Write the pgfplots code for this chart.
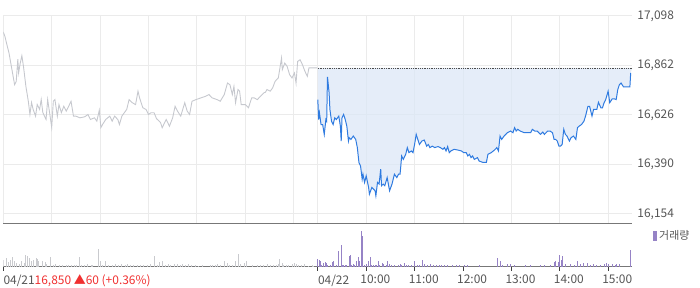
\documentclass[border=0pt]{standalone}
\usepackage{fontspec}
\setmainfont{Noto Sans CJK KR}
\usepackage{pgfplots}
\usepackage{pgfplotstable}
\pgfplotsset{compat=1.18}
\usepgfplotslibrary{fillbetween}
\definecolor{gridc}{HTML}{EBEBEB}
\definecolor{dayone}{HTML}{C6C8CE}
\definecolor{daytwo}{HTML}{2F7BE0}
\definecolor{fillc}{HTML}{DCE7F7}
\definecolor{volp}{HTML}{9683C6}
\definecolor{volg}{HTML}{C9CACE}
\definecolor{lab}{HTML}{555555}
\definecolor{up}{HTML}{F03030}
\definecolor{axc}{HTML}{777777}

\pgfplotstableread{
m p
0 17021
2 17000
5 16952
7 16922
10 16857
14 16770
16 16786
18 16892
19 16826
21 16873
23 16908
25 16857
28 16762
31 16691
33 16628
35 16685
37 16652
40 16620
42 16675
45 16652
47 16699
49 16637
53 16604
55 16699
58 16620
60 16566
62 16691
64 16699
67 16620
69 16675
72 16637
75 16667
78 16644
81 16667
84 16691
85 16667
87 16620
90 16620
95 16612
101 16617
105 16628
108 16604
113 16612
116 16596
119 16648
121 16565
123 16580
127 16604
132 16620
135 16596
138 16620
142 16604
144 16580
147 16620
150 16636
153 16652
156 16699
160 16684
164 16675
167 16739
169 16707
173 16660
177 16652
180 16628
183 16636
187 16636
190 16608
195 16589
197 16565
202 16604
206 16572
210 16612
213 16667
216 16644
220 16620
225 16684
228 16644
231 16628
234 16691
239 16699
245 16707
251 16715
255 16723
259 16707
265 16699
269 16691
274 16723
278 16778
281 16770
284 16723
286 16762
288 16684
291 16747
293 16739
295 16675
300 16675
304 16660
308 16707
311 16707
315 16699
319 16715
323 16731
325 16734
327 16747
331 16739
334 16755
337 16786
341 16802
345 16897
346 16842
349 16873
352 16857
355 16818
358 16802
361 16826
363 16778
365 16881
368 16889
371 16865
374 16834
377 16810
379 16850
389 16850
}\dayone

\pgfplotstableread{
m p
390 16699
391 16604
392 16636
394 16580
396 16580
398 16533
400 16604
401 16596
402 16807
404 16731
405 16652
407 16596
409 16580
411 16612
413 16604
416 16620
418 16572
419 16501
420 16612
422 16628
424 16604
426 16572
428 16501
429 16517
431 16509
434 16525
437 16509
439 16470
441 16399
443 16382
445 16319
446 16343
448 16304
450 16335
453 16280
454 16248
457 16280
459 16272
461 16264
462 16240
464 16304
466 16296
468 16367
469 16288
471 16296
473 16288
476 16327
479 16264
482 16296
485 16343
488 16327
490 16343
492 16343
494 16430
496 16414
499 16438
501 16470
503 16446
506 16454
508 16446
510 16485
512 16533
514 16509
516 16485
519 16501
522 16506
525 16477
527 16485
529 16470
532 16477
535 16470
539 16475
542 16470
545 16462
547 16470
549 16454
551 16475
553 16446
555 16454
559 16462
564 16458
568 16454
571 16446
574 16446
576 16430
578 16438
580 16422
582 16430
584 16414
588 16422
590 16406
595 16399
599 16399
601 16438
605 16446
609 16458
612 16470
614 16454
616 16525
618 16509
621 16525
625 16541
629 16549
632 16541
634 16565
636 16549
638 16557
641 16549
646 16541
654 16541
656 16557
659 16549
662 16549
664 16541
666 16533
669 16544
671 16533
675 16549
678 16549
681 16541
683 16509
685 16509
687 16501
689 16477
691 16477
693 16485
695 16557
697 16533
699 16525
702 16501
704 16517
707 16525
710 16509
712 16565
714 16572
717 16580
720 16596
722 16620
725 16667
727 16667
730 16620
732 16652
736 16652
738 16686
741 16660
743 16660
745 16684
747 16699
750 16739
752 16684
755 16702
758 16702
760 16699
762 16747
764 16770
766 16778
769 16760
771 16760
777 16760
778 16826
}\daytwo

\pgfplotstableread{
m v
0 7
4 9
6 5
9 7
11 10
14 6
16 4
20 3
23 6
26 4
28 12
30 11
32 9
35 6
37 7
38 6
41 9
42 8
44 6
48 5
49 6
52 5
54 3
59 10
62 2
65 3
70 2
74 2
78 2
81 2
85 2
88 2
91 2
94 10
97 2
101 2
105 3
109 2
111 2
118 18
120 6
123 2
127 6
131 2
136 2
139 3
143 2
146 3
151 2
154 3
158 2
162 2
167 2
170 2
174 2
179 2
183 3
188 11
191 2
194 5
197 6
201 2
205 3
207 2
212 3
216 3
220 2
222 3
226 2
230 3
233 2
238 2
242 1
247 2
257 2
259 2
263 2
265 3
269 2
274 6
278 4
280 2
284 2
288 6
292 13
294 3
299 4
302 6
309 2
315 2
319 2
323 2
327 3
331 2
335 2
339 2
341 3
343 8
346 4
348 2
351 2
354 2
358 3
361 4
363 3
366 2
370 2
374 3
379 1
383 2
385 1
}\volone

\pgfplotstableread{
m v
390 8
392 7
393 6
395 2
397 4
399 5
401 4
402 2
406 2
408 5
409 6
413 2
416 16
419 22
420 2
422 2
424 2
426 2
429 11
430 12
432 2
434 3
436 2
438 6
440 10
442 6
444 36
446 31
448 2
450 3
453 6
455 10
457 2
459 2
461 2
463 2
465 6
467 2
470 4
472 3
475 2
477 6
479 3
481 2
485 2
490 2
492 3
494 2
497 4
500 2
502 2
506 2
510 6
513 2
516 2
520 7
522 3
526 2
530 3
533 2
537 2
541 2
543 2
547 2
551 2
557 2
562 2
566 2
572 2
576 2
590 2
613 9
616 6
619 2
625 3
629 3
634 2
648 2
654 2
666 2
671 2
679 2
683 5
685 6
689 5
690 12
692 7
693 11
697 3
703 3
708 2
712 6
716 3
720 4
724 4
728 2
732 3
736 2
741 2
745 3
748 4
751 3
755 3
759 2
761 3
764 3
778 17
}\voltwo

\begin{document}
\begin{tikzpicture}[font=\fontsize{12}{14}\selectfont]
% price panel
\begin{axis}[
  at={(0pt,64pt)}, anchor=south west,
  width=632pt, height=209pt, scale only axis,
  xmin=0, xmax=780, ymin=16106, ymax=17098,
  axis x line*=bottom, axis y line*=right,
  y axis line style={draw=none},
  x axis line style={color=axc, line width=1pt, -},
  xtick={0,60,120,180,240,300,360,390,450,510,570,630,690,750},
  xticklabels={},
  ytick={16154,16390,16626,16862,17098},
  scaled y ticks=false,
  yticklabel pos=right,
  yticklabel style={anchor=west, inner sep=0pt, xshift=5pt, text=lab,
    /pgf/number format/fixed, /pgf/number format/precision=0,
    /pgf/number format/1000 sep={,}, /pgf/number format/assume math mode=true},
  major tick length=0pt,
  grid=major,
  major grid style={color=gridc, line width=0.9pt},
]
\addplot[color=dayone, line width=0.9pt] table[x=m, y=p] {\dayone};
\addplot[draw=none, name path=ref, forget plot] coordinates {(390,16850) (780,16850)};
\addplot[draw=none, name path=d2, forget plot] table[x=m, y=p] {\daytwo};
\addplot[fill=fillc, fill opacity=0.75, draw=none] fill between[of=d2 and ref];
\addplot[color=black!70, densely dotted, line width=0.8pt] coordinates {(390,16850) (780,16850)};
\addplot[color=daytwo, line width=1pt] table[x=m, y=p] {\daytwo};
\end{axis}
% volume panel
\begin{axis}[
  at={(0pt,21pt)}, anchor=south west,
  width=632pt, height=40pt, scale only axis,
  xmin=0, xmax=780, ymin=0, ymax=40,
  axis x line*=bottom, axis y line*=left,
  y axis line style={draw=none}, ytick=\empty,
  x axis line style={color=axc, line width=1pt, -},
  xtick={0,390,450,510,570,630,690,750},
  xticklabels={04/21{\color{up}16,850 ▲60 (+0.36\%)}, 04/22, \hspace*{-6pt}10:00, \hspace*{-6pt}11:00, \hspace*{-6pt}12:00, \hspace*{-6pt}13:00, \hspace*{-6pt}14:00, \hspace*{-6pt}15:00},
  xticklabel style={anchor=north west, inner sep=0pt, text=lab, yshift=-4pt},
  xtick align=outside,
  major tick length=4pt,
  tick style={color=black!75, line width=0.9pt},
  legend style={at={(1.033,0.78)}, anchor=west, draw=none, fill=none, inner sep=0pt,
    font=\fontsize{11}{13}\selectfont, text=lab},
  legend image code/.code={\fill[volp] (0pt,-5pt) rectangle (3pt,4pt);},
]
\addplot[ycomb, color=volg, line width=1pt, forget plot] table[x=m, y=v] {\volone};
\addplot[ycomb, color=volp, line width=1pt] table[x=m, y=v] {\voltwo};
\addlegendentry{거래량}
\end{axis}
\path (0,0) rectangle (700pt,289pt);
\end{tikzpicture}
\end{document}
